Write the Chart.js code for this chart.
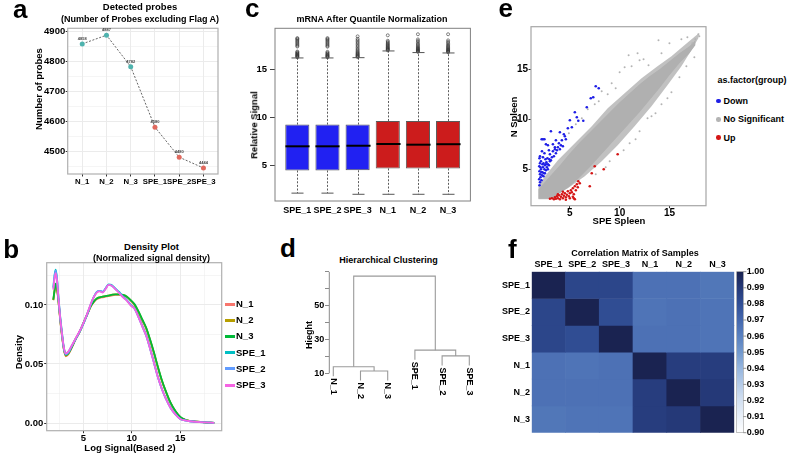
<!DOCTYPE html>
<html><head><meta charset="utf-8">
<script src="https://cdn.jsdelivr.net/npm/chart.js@4.4.1/dist/chart.umd.min.js"></script>
<style>
html,body{margin:0;padding:0;background:#fff;}
#fig{position:relative;width:789px;height:454px;overflow:hidden;background:#fff;font-family:'Liberation Sans',Arial,sans-serif;font-weight:bold;}
.cv{position:absolute;}
.t{position:absolute;white-space:nowrap;line-height:1;font-weight:bold;color:#000;font-family:'Liberation Sans',Arial,sans-serif;}
.lt{position:absolute;white-space:nowrap;font-weight:bold;color:#000;font-family:'Liberation Sans',Arial,sans-serif;font-size:26px;line-height:26px;}
</style></head><body><div id="fig"></div>
<script>
// ================= DATA =================
// (a) detected probes
const probeSamples = ['N_1', 'N_2', 'N_3', 'SPE_1', 'SPE_2', 'SPE_3'];
const probeCounts = [4858, 4887, 4782, 4580, 4480, 4444];
const probeGroups = ['N', 'N', 'N', 'SPE', 'SPE', 'SPE'];
const probeYTicks = [4450, 4500, 4550, 4600, 4650, 4700, 4750, 4800, 4850, 4900];

// (b) density plot
const densityNames = ['N_1', 'N_2', 'N_3', 'SPE_1', 'SPE_2', 'SPE_3'];
const densityX = [1.91,2.05,2.16,2.3,2.45,2.6,2.8,3.0,3.2,3.45,3.8,4.2,4.6,5.0,5.4,5.8,6.1,6.4,6.7,7.0,7.3,7.6,7.9,8.3,8.7,9.1,9.5,9.9,10.3,10.7,11.1,11.5,11.9,12.3,12.7,13.1,13.5,14.0,14.5,15.0,15.5,16.0,16.7,17.5,18.5];
const densityN1 = [0.104,0.112,0.117,0.113,0.102,0.089,0.074,0.062,0.0565,0.058,0.0635,0.0705,0.0765,0.084,0.0915,0.099,0.1025,0.105,0.106,0.1065,0.107,0.1075,0.108,0.1085,0.1085,0.108,0.1065,0.1035,0.0995,0.0935,0.0865,0.0795,0.0695,0.0585,0.0465,0.0355,0.0265,0.0168,0.0099,0.005,0.0028,0.0018,0.0011,0.0006,0.0002];
const densityN2 = [0.104,0.1125,0.1175,0.1135,0.1025,0.0895,0.0745,0.0625,0.057,0.0585,0.064,0.071,0.077,0.0845,0.092,0.0995,0.103,0.1055,0.1065,0.107,0.1075,0.108,0.1085,0.109,0.109,0.1085,0.107,0.104,0.100,0.094,0.087,0.080,0.070,0.059,0.047,0.036,0.027,0.017,0.010,0.005,0.0028,0.0018,0.0011,0.0006,0.0002];
const densityN3 = [0.1045,0.113,0.118,0.114,0.103,0.090,0.075,0.063,0.0575,0.059,0.064,0.071,0.077,0.0845,0.092,0.0995,0.103,0.1055,0.1065,0.107,0.1075,0.108,0.1085,0.109,0.109,0.1085,0.107,0.104,0.1005,0.0945,0.0875,0.0805,0.0705,0.0595,0.0475,0.0365,0.0272,0.0172,0.0101,0.0051,0.0028,0.0018,0.0011,0.0006,0.0002];
const densitySPE1 = [0.115,0.126,0.130,0.122,0.106,0.092,0.077,0.064,0.0585,0.060,0.065,0.071,0.077,0.084,0.092,0.101,0.107,0.111,0.112,0.111,0.114,0.1175,0.117,0.114,0.111,0.107,0.104,0.100,0.097,0.090,0.082,0.074,0.063,0.051,0.039,0.029,0.021,0.013,0.0075,0.0035,0.0022,0.0015,0.001,0.0006,0.0002];
const densitySPE2 = [0.114,0.125,0.129,0.121,0.105,0.091,0.076,0.063,0.058,0.0595,0.065,0.071,0.077,0.084,0.092,0.101,0.107,0.111,0.112,0.111,0.114,0.117,0.1165,0.1135,0.1105,0.107,0.104,0.100,0.0965,0.0895,0.0815,0.0735,0.0625,0.0505,0.0385,0.0288,0.0208,0.0128,0.0074,0.0035,0.0022,0.0015,0.001,0.0006,0.0002];
const densitySPE3 = [0.113,0.123,0.127,0.120,0.105,0.091,0.076,0.064,0.059,0.0605,0.0655,0.0715,0.0775,0.0845,0.0925,0.1015,0.107,0.1105,0.1115,0.1105,0.1135,0.117,0.1165,0.1135,0.110,0.1065,0.1035,0.0995,0.0965,0.0895,0.0815,0.0735,0.0625,0.0505,0.0385,0.0288,0.0208,0.0128,0.0074,0.0035,0.0022,0.0015,0.001,0.0006,0.0002];
const densityXTicks = [2.5, 5, 7.5, 10, 12.5, 15, 17.5];
const densityYTicks = [0, 0.025, 0.05, 0.075, 0.1, 0.125];

// (c) boxplots
const boxSamples = ['SPE_1', 'SPE_2', 'SPE_3', 'N_1', 'N_2', 'N_3'];
const boxQ1 = [4.48, 4.48, 4.50, 4.69, 4.68, 4.69];
const boxMedian = [7.00, 7.00, 7.06, 7.24, 7.17, 7.22];
const boxQ3 = [9.27, 9.27, 9.27, 9.64, 9.64, 9.64];
const whiskerLow = [2.12, 2.12, 2.00, 2.00, 2.00, 2.00];
const whiskerHigh = [16.21, 16.21, 16.24, 16.94, 16.77, 16.73];
const boxOutliers = [
  [16.28,16.34,16.40,16.46,16.52,16.58,16.65,16.72,16.80,16.88,17.40,17.50,17.62,17.74,17.86,17.98,18.10,18.20,18.28],
  [16.28,16.33,16.39,16.45,16.51,16.58,16.66,16.75,16.85,17.38,17.48,17.60,17.72,17.84,17.96,18.08,18.18,18.28],
  [16.30,16.36,16.42,16.49,16.56,16.63,16.71,16.80,16.90,17.02,17.15,17.30,17.45,17.60,17.75,17.90,18.05,18.20,18.46],
  [17.00,17.06,17.12,17.18,17.25,17.32,17.40,17.48,17.57,17.66,17.76,17.88,18.00,18.57],
  [16.84,16.90,16.96,17.02,17.09,17.16,17.24,17.33,17.43,17.55,17.68,17.82,17.98,18.14,18.68],
  [16.80,16.86,16.92,16.98,17.05,17.12,17.20,17.29,17.38,17.48,17.60,17.73,17.88,18.04,18.68]
];
const boxYTicks = [5, 10, 15];

// (d) hierarchical clustering
const dendroLeaves = ['N_1', 'N_2', 'N_3', 'SPE_1', 'SPE_2', 'SPE_3'];
const dendroMerge = [[-2, -3], [-1, 1], [-5, -6], [-4, 3], [2, 4]];
const dendroHeight = [11.4, 13.9, 20.3, 23.7, 67.5];
const dendroYTicks = [10, 20, 30, 40, 50, 60, 70];
const dendroYLabels = [10, 30, 50];

// (e) scatter SPE vs N spleen
const cloudOuter = [[1.85,3.3],[2.5,4.3],[3.8,5.9],[5.5,7.6],[7.2,9.3],[8.8,11.1],[10.5,12.6],[12.2,14.1],[13.8,15.3],[15.2,16.3],[16.5,17.4],[17.7,18.4],[18.0,18.6],[17.9,18.1],[17.2,16.9],[16.2,15.3],[14.8,13.4],[13.2,11.3],[11.5,9.3],[9.8,7.4],[8.2,5.8],[6.5,4.3],[4.8,3.1],[2.8,2.0],[1.85,2.0],[1.85,3.3]];
const cloudCore = [[1.85,3.0],[3,4.3],[4,5.4],[5,6.6],[6,7.7],[7,8.7],[8,9.7],[9,10.7],[10,11.7],[11,12.6],[12,13.5],[13,14.3],[14,15.0],[15,15.8],[16,16.6],[17,17.3],[17.6,17.9],[17.6,17.4],[17,16.6],[16,15.6],[15,14.4],[14,13.1],[13,11.9],[12,10.7],[11,9.6],[10,8.5],[9,7.4],[8,6.3],[7,5.2],[6,4.2],[5,3.3],[4,2.6],[3.3,2.05],[1.85,2.05],[1.85,3.0]];
const grayPoints = [[10.9,16.4],[11.8,16.6],[12.0,15.9],[12.4,16.0],[11.2,15.3],[10.0,14.7],[10.5,15.2],[9.2,13.6],[8.2,12.8],[8.8,12.5],[7.5,11.5],[6.8,11.0],[6.2,10.1],[5.6,9.5],[4.9,8.6],[13.9,17.9],[15.0,17.6],[14.2,16.6],[16.2,18.0],[16.8,18.2],[12.9,15.4],[9.6,13.1],[7.9,11.8],[12.8,10.1],[13.2,10.3],[12.0,8.8],[11.0,7.6],[10.4,6.9],[14.2,11.5],[15.2,12.7],[16.0,14.2],[14.8,12.1],[9.0,5.8],[8.6,5.2],[7.6,4.5],[13.6,10.6],[11.6,8.0],[16.7,15.3],[17.5,16.2],[17.9,18.5],[18.0,18.3],[17.6,18.0],[17.3,17.6]];
const downPoints = [[1.95,3.4],[2.0,3.7],[1.92,4.0],[2.05,4.2],[2.0,4.5],[1.95,4.8],[2.1,5.0],[1.93,5.3],[2.0,5.6],[2.15,3.9],[2.2,4.4],[2.25,4.7],[2.3,5.2],[2.1,5.8],[2.4,4.6],[2.45,5.0],[2.5,5.4],[2.35,5.6],[2.6,4.9],[2.7,5.2],[2.65,5.7],[2.8,5.5],[2.9,5.4],[2.55,6.0],[2.3,6.2],[2.0,6.3],[2.75,6.1],[3.0,5.8],[3.1,5.9],[3.2,6.2],[3.4,6.3],[3.6,6.6],[3.5,7.0],[3.3,6.8],[3.0,6.5],[2.9,6.9],[2.45,6.6],[2.2,6.8],[1.95,6.1],[2.05,5.2],[2.15,4.7],[2.25,5.5],[2.35,4.3],[2.5,4.6],[2.6,5.5],[2.8,5.0],[2.95,6.0],[3.7,6.9],[3.8,7.2],[4.0,7.0],[4.1,7.4],[3.9,7.6],[3.5,7.2],[4.3,7.3],[4.5,8.3],[3.1,8.8],[2.17,8.0],[2.3,8.0],[2.45,8.0],[2.6,7.5],[2.8,7.4],[4.0,8.7],[4.4,8.5],[4.8,9.1],[5.0,9.9],[5.5,10.7],[5.7,10.2],[5.85,9.85],[6.35,9.85],[6.7,11.2],[7.1,12.1],[7.35,12.2],[7.6,13.3],[7.9,13.1],[4.6,8.0],[4.2,7.9],[3.3,7.5],[3.6,7.9],[5.2,9.2]];
const upPoints = [[3.0,2.05],[3.2,2.1],[3.4,2.0],[3.5,2.2],[3.6,2.05],[3.7,2.3],[3.8,2.1],[3.9,2.4],[4.0,2.0],[4.1,2.25],[4.2,2.5],[4.3,2.1],[4.4,2.35],[4.5,2.6],[4.6,2.2],[4.7,2.45],[4.8,2.8],[4.9,2.3],[5.0,2.6],[5.1,2.9],[5.2,2.7],[5.3,3.1],[5.4,2.5],[5.5,3.3],[5.6,2.9],[5.7,3.5],[5.8,3.2],[4.3,2.75],[3.8,2.5],[5.0,2.1],[5.4,2.1],[5.3,2.25],[5.85,3.8],[6.0,3.6],[7.0,3.3],[7.2,4.6],[7.5,5.3],[8.4,5.0],[9.8,6.5],[5.5,2.0],[4.6,1.95]];
const scatterTicks = [5, 10, 15];
const groupNames = ['Down', 'No Significant', 'Up'];

// (f) correlation matrix
const corrSamples = ['SPE_1', 'SPE_2', 'SPE_3', 'N_1', 'N_2', 'N_3'];
const corrMatrix = [
  [1.000, 0.984, 0.984, 0.966, 0.966, 0.964],
  [0.984, 1.000, 0.981, 0.965, 0.966, 0.965],
  [0.984, 0.981, 1.000, 0.966, 0.966, 0.965],
  [0.966, 0.965, 0.966, 1.000, 0.988, 0.988],
  [0.966, 0.966, 0.966, 0.988, 1.000, 0.990],
  [0.964, 0.965, 0.965, 0.988, 0.990, 1.000]
];
const colorbarTicks = [0.90, 0.91, 0.92, 0.93, 0.94, 0.95, 0.96, 0.97, 0.98, 0.99, 1.00];
const corrColorStops = [[0.90,'#ffffff'],[0.92,'#d3e0f1'],[0.94,'#97b6de'],[0.95,'#7399cd'],[0.96,'#5a81c0'],[0.97,'#4467ad'],[0.98,'#314f96'],[0.99,'#253978'],[1.00,'#1a2351']];

// ================= HELPERS =================
const FONT = "'Liberation Sans', Arial, sans-serif";
Chart.defaults.font.family = FONT;
Chart.defaults.font.weight = 'bold';
Chart.defaults.font.size = 9;
Chart.defaults.color = '#000';
Chart.defaults.animation = false;
Chart.defaults.responsive = false;
Chart.defaults.events = [];
Chart.defaults.plugins.legend.display = false;
Chart.defaults.plugins.tooltip.enabled = false;

const fig = document.getElementById('fig');
function makeCtx(l, t, w, h) {
  const c = document.createElement('canvas');
  c.width = w; c.height = h; c.className = 'cv';
  c.style.left = l + 'px'; c.style.top = t + 'px';
  c.style.width = w + 'px'; c.style.height = h + 'px';
  fig.appendChild(c);
  return c.getContext('2d');
}
const fixW = w => s => { s.width = w; };
const fixH = h => s => { s.height = h; };
const setTicks = vals => s => { s.ticks = vals.map(v => ({value: v})); };
function txt(s, x, y, size, opt) {
  opt = opt || {};
  const d = document.createElement('div');
  d.className = 't'; d.textContent = s;
  d.style.fontSize = size + 'px';
  d.style.left = x + 'px'; d.style.top = y + 'px';
  let tr = opt.left ? 'translate(0,-50%)' : 'translate(-50%,-50%)';
  if (opt.rot) tr += ' rotate(' + opt.rot + 'deg)';
  d.style.transform = tr;
  fig.appendChild(d);
  return d;
}
function letter(s, left, baseline) {
  const d = document.createElement('div');
  d.className = 'lt'; d.textContent = s;
  d.style.left = left + 'px'; d.style.top = (baseline - 22) + 'px';
  fig.appendChild(d);
}
function hexToRgb(h) { return [parseInt(h.slice(1,3),16), parseInt(h.slice(3,5),16), parseInt(h.slice(5,7),16)]; }
function corrColor(v) {
  for (let i = 1; i < corrColorStops.length; i++) {
    const [v0, c0] = corrColorStops[i-1], [v1, c1] = corrColorStops[i];
    if (v <= v1 + 1e-9) {
      const t = Math.max(0, Math.min(1, (v - v0) / (v1 - v0)));
      const a = hexToRgb(c0), b = hexToRgb(c1);
      return 'rgb(' + a.map((x, k) => Math.round(x + (b[k] - x) * t)).join(',') + ')';
    }
  }
  return corrColorStops[corrColorStops.length-1][1];
}

// plugins
Chart.register({
  id: 'frame',
  afterDatasetsDraw(chart, args, opts) {
    if (!opts || !opts.color) return;
    const a = chart.chartArea, ctx = chart.ctx;
    ctx.save(); ctx.strokeStyle = opts.color; ctx.lineWidth = opts.width || 1;
    ctx.strokeRect(a.left, a.top, a.right - a.left, a.bottom - a.top);
    ctx.restore();
  }
});
Chart.register({
  id: 'valueLabels',
  afterDatasetsDraw(chart, args, opts) {
    if (!opts || !opts.values) return;
    const meta = chart.getDatasetMeta(0), ctx = chart.ctx;
    ctx.save(); ctx.font = 'bold 4px ' + FONT; ctx.fillStyle = '#444';
    ctx.textAlign = 'center'; ctx.textBaseline = 'bottom';
    meta.data.forEach((pt, i) => ctx.fillText(String(opts.values[i]), pt.x, pt.y - 3));
    ctx.restore();
  }
});
Chart.register({
  id: 'boxExtras',
  afterDatasetsDraw(chart, args, opts) {
    if (!opts || !opts.on) return;
    const ctx = chart.ctx, xs = chart.scales.x, ys = chart.scales.y;
    const half = xs.getPixelForValue(1.4) - xs.getPixelForValue(1);
    ctx.save();
    boxSamples.forEach((s, i) => {
      const x = Math.round(xs.getPixelForValue(i + 1)) + 0.5;
      const yQ1 = ys.getPixelForValue(boxQ1[i]), yQ3 = ys.getPixelForValue(boxQ3[i]);
      const yLo = ys.getPixelForValue(whiskerLow[i]), yHi = ys.getPixelForValue(whiskerHigh[i]);
      ctx.strokeStyle = '#333'; ctx.lineWidth = 0.8; ctx.setLineDash([2, 1.6]);
      ctx.beginPath(); ctx.moveTo(x, yQ3); ctx.lineTo(x, yHi); ctx.moveTo(x, yQ1); ctx.lineTo(x, yLo); ctx.stroke();
      ctx.setLineDash([]);
      ctx.strokeStyle = '#555'; ctx.lineWidth = 1;
      ctx.beginPath(); ctx.moveTo(x - half / 2, yHi); ctx.lineTo(x + half / 2, yHi);
      ctx.moveTo(x - half / 2, yLo); ctx.lineTo(x + half / 2, yLo); ctx.stroke();
      const yM = ys.getPixelForValue(boxMedian[i]);
      ctx.strokeStyle = '#000'; ctx.lineWidth = 2;
      ctx.beginPath(); ctx.moveTo(x - half, yM); ctx.lineTo(x + half, yM); ctx.stroke();
    });
    ctx.restore();
  }
});
Chart.register({
  id: 'dendro',
  afterDraw(chart, args, opts) {
    if (!opts || !opts.leaves) return;
    const ctx = chart.ctx, xs = chart.scales.x, ys = chart.scales.y, L = chart.chartArea.left;
    ctx.save();
    ctx.strokeStyle = '#8A8A8A'; ctx.lineWidth = 1;
    ctx.beginPath(); ctx.moveTo(L, ys.getPixelForValue(opts.axisFrom)); ctx.lineTo(L, ys.getPixelForValue(opts.axisTo)); ctx.stroke();
    ctx.fillStyle = '#000'; ctx.font = 'bold 9px ' + FONT;
    ctx.textAlign = 'left'; ctx.textBaseline = 'middle';
    opts.leaves.forEach(l => {
      ctx.save();
      ctx.translate(xs.getPixelForValue(l.x), ys.getPixelForValue(l.y) + 2);
      ctx.rotate(Math.PI / 2);
      ctx.fillText(l.name, 0, 0);
      ctx.restore();
    });
    ctx.restore();
  }
});
Chart.register({
  id: 'colorbar',
  afterDraw(chart, args, opts) {
    if (!opts || !opts.scale) return;
    const s = chart.scales[opts.scale], ctx = chart.ctx;
    const x0 = s.left + opts.gap, w = opts.width;
    const yTop = s.getPixelForValue(s.max), yBot = s.getPixelForValue(s.min);
    const g = ctx.createLinearGradient(0, yBot, 0, yTop);
    corrColorStops.forEach(([v, c]) => g.addColorStop((v - s.min) / (s.max - s.min), c));
    ctx.save();
    ctx.fillStyle = g; ctx.fillRect(x0, yTop, w, yBot - yTop);
    ctx.strokeStyle = '#9a9a9a'; ctx.lineWidth = 0.6; ctx.strokeRect(x0, yTop, w, yBot - yTop);
    ctx.strokeStyle = '#777'; ctx.lineWidth = 0.8;
    s.ticks.forEach(t => {
      const y = s.getPixelForValue(t.value);
      ctx.beginPath(); ctx.moveTo(x0 + w, y); ctx.lineTo(x0 + w + 3, y); ctx.stroke();
    });
    ctx.restore();
  }
});

// ================= PANEL A =================
const groupColors = {N: '#4FB3AE', SPE: '#E0695E'};
new Chart(makeCtx(10, 20, 212, 176), {
  type: 'line',
  data: {datasets: [{
    data: probeCounts.map((v, i) => ({x: i + 1, y: v})),
    borderColor: '#555', borderWidth: 0.9, borderDash: [2, 1.6],
    pointRadius: 2.5, pointBorderWidth: 0, pointBorderColor: 'rgba(0,0,0,0)',
    pointBackgroundColor: probeGroups.map(g => groupColors[g]),
    tension: 0, fill: false
  }]},
  options: {
    layout: {padding: {left: 0, top: 8.3, right: 3.6, bottom: 0}},
    scales: {
      x: {type: 'linear', min: 0.4, max: 6.6, afterFit: fixH(22), afterBuildTicks: setTicks(probeSamples.map((s, i) => i + 1)),
        ticks: {autoSkip: false, maxRotation: 0, padding: 1.5, font: {size: 7.8, lineHeight: 1}, callback: v => probeSamples[v - 1]},
        grid: {color: '#EBEBEB', lineWidth: 1, tickColor: '#333', tickLength: 2.5}, border: {display: false}},
      y: {type: 'linear', min: 4424, max: 4910, afterFit: fixW(57.7), afterBuildTicks: setTicks(probeYTicks),
        ticks: {autoSkip: false, padding: 0.5, font: {size: 9.5, lineHeight: 1}, callback: v => (v % 100 === 0 ? String(v) : '')},
        grid: {color: '#EBEBEB', lineWidth: c => (c.tick && c.tick.value % 100 === 0 ? 1 : 0.5),
          tickColor: c => (c.tick && c.tick.value % 100 === 0 ? '#333' : 'rgba(0,0,0,0)'), tickLength: 2}, border: {display: false}}
    },
    plugins: {frame: {color: '#B0B0B0', width: 1.2}, valueLabels: {values: probeCounts}}
  }
});

// ================= PANEL B =================
const densitySeries = [densityN1, densityN2, densityN3, densitySPE1, densitySPE2, densitySPE3];
const densityColors = ['#F8766D', '#B79F00', '#00BA38', '#00BFC4', '#619CFF', '#F564E3'];
const isMajor = (v, step) => Math.abs(v / step - Math.round(v / step)) < 1e-6;
new Chart(makeCtx(0, 255, 224, 199), {
  type: 'line',
  data: {datasets: densityNames.map((n, k) => ({
    label: n, data: densityX.map((x, i) => ({x: x, y: densitySeries[k][i]})),
    borderColor: densityColors[k], borderWidth: 1.8, pointRadius: 0,
    cubicInterpolationMode: 'monotone', fill: false, order: 5 - k
  }))},
  options: {
    layout: {padding: {left: 0, top: 7.7, right: 2.3, bottom: 0}},
    scales: {
      x: {type: 'linear', min: 1.23, max: 19.27, afterFit: fixH(23.3), afterBuildTicks: setTicks(densityXTicks),
        ticks: {autoSkip: false, maxRotation: 0, padding: 0.6, font: {size: 9.5, lineHeight: 1}, callback: v => (isMajor(v, 5) ? String(v) : '')},
        grid: {color: '#EBEBEB', lineWidth: c => (c.tick && isMajor(c.tick.value, 5) ? 1 : 0.5),
          tickColor: c => (c.tick && isMajor(c.tick.value, 5) ? '#333' : 'rgba(0,0,0,0)'), tickLength: 2.5}, border: {display: false}},
      y: {type: 'linear', min: -0.0065, max: 0.1358, afterFit: fixW(46.7), afterBuildTicks: setTicks(densityYTicks),
        ticks: {autoSkip: false, padding: 1, font: {size: 9.5, lineHeight: 1}, callback: v => (isMajor(v, 0.05) ? v.toFixed(2) : '')},
        grid: {color: '#EBEBEB', lineWidth: c => (c.tick && isMajor(c.tick.value, 0.05) ? 1 : 0.5),
          tickColor: c => (c.tick && isMajor(c.tick.value, 0.05) ? '#333' : 'rgba(0,0,0,0)'), tickLength: 2.5}, border: {display: false}}
    },
    plugins: {frame: {color: '#B0B0B0', width: 1.2}}
  }
});

// ================= PANEL C =================
new Chart(makeCtx(225, 20, 250, 200), {
  type: 'bar',
  data: {datasets: [
    {type: 'bar', data: boxSamples.map((s, i) => ({x: i + 1, y: [boxQ1[i], boxQ3[i]]})),
      backgroundColor: boxSamples.map(s => (s.indexOf('SPE') === 0 ? '#2121F2' : '#CC1C1C')),
      borderColor: '#5A5A5A', borderWidth: 1, borderSkipped: false, barPercentage: 0.8, categoryPercentage: 1, order: 2},
    {type: 'scatter', data: boxOutliers.flatMap((arr, i) => arr.map(v => ({x: i + 1, y: v}))),
      pointStyle: 'circle', pointRadius: 1.5, borderColor: '#333', backgroundColor: 'rgba(0,0,0,0)', borderWidth: 0.6, order: 1}
  ]},
  options: {
    layout: {padding: {left: 0, top: 8.3, right: 1.7, bottom: 0}},
    scales: {
      x: {type: 'linear', min: 0.26, max: 6.74, offset: false, afterFit: fixH(19), afterBuildTicks: setTicks(boxSamples.map((s, i) => i + 1)),
        ticks: {autoSkip: false, maxRotation: 0, padding: 5.4, font: {size: 9, lineHeight: 1}, callback: v => boxSamples[v - 1]},
        grid: {display: false, drawTicks: false, offset: false}, border: {display: false}},
      y: {type: 'linear', min: 1.3, max: 19.3, afterFit: fixW(50), afterBuildTicks: setTicks(boxYTicks),
        ticks: {padding: 3, font: {size: 9.5, lineHeight: 1}},
        grid: {drawOnChartArea: false, tickColor: '#444', tickLength: 5}, border: {display: false}}
    },
    plugins: {frame: {color: '#808080', width: 1}, boxExtras: {on: true}}
  }
});

// ================= PANEL D =================
const dendroHang = 0.1 * (Math.max(...dendroHeight) - Math.min(...dendroHeight));
const clusterX = [];
const nodeX = id => (id < 0 ? -id : clusterX[id - 1]);
const nodeBottom = (id, h) => (id < 0 ? h - dendroHang : dendroHeight[id - 1]);
const dendroSegments = [];
const leafLabelPos = [];
dendroMerge.forEach(([a, b], k) => {
  const h = dendroHeight[k];
  clusterX[k] = (nodeX(a) + nodeX(b)) / 2;
  dendroSegments.push([{x: nodeX(a), y: nodeBottom(a, h)}, {x: nodeX(a), y: h}, {x: nodeX(b), y: h}, {x: nodeX(b), y: nodeBottom(b, h)}]);
  [a, b].forEach(id => { if (id < 0) leafLabelPos.push({name: dendroLeaves[-id - 1], x: -id, y: h - dendroHang}); });
});
new Chart(makeCtx(290, 265, 190, 150), {
  type: 'scatter',
  data: {datasets: dendroSegments.map(seg => ({type: 'line', data: seg, borderColor: '#9A9A9A', borderWidth: 1.1, pointRadius: 0, tension: 0, fill: false}))},
  options: {
    layout: {padding: {left: 0, top: 6.9, right: 6.7, bottom: 30}},
    scales: {
      x: {type: 'linear', min: 0.853, max: 6.147, display: false},
      y: {type: 'linear', min: 3.1, max: 70, afterFit: fixW(39.3), afterBuildTicks: setTicks(dendroYTicks),
        ticks: {autoSkip: false, padding: 0.7, font: {size: 9, lineHeight: 1}, callback: v => (dendroYLabels.indexOf(v) >= 0 ? String(v) : '')},
        grid: {drawOnChartArea: false, tickColor: '#8A8A8A', tickLength: 4.3}, border: {display: false}}
    },
    plugins: {dendro: {leaves: leafLabelPos, axisFrom: dendroYTicks[0], axisTo: dendroYTicks[dendroYTicks.length - 1]}}
  }
});

// ================= PANEL E =================
const toXY = arr => arr.map(p => ({x: p[0], y: p[1]}));
new Chart(makeCtx(490, 20, 220, 210), {
  type: 'scatter',
  data: {datasets: [
    {type: 'line', data: toXY(cloudOuter), fill: 'shape', backgroundColor: 'rgba(178,178,178,0.8)', borderColor: 'rgba(0,0,0,0)', borderWidth: 0, pointRadius: 0, tension: 0, order: 5},
    {type: 'line', data: toXY(cloudCore), fill: 'shape', backgroundColor: '#B0B0B0', borderColor: 'rgba(0,0,0,0)', borderWidth: 0, pointRadius: 0, tension: 0, order: 4},
    {label: groupNames[1], data: toXY(grayPoints), backgroundColor: '#B4B4B4', pointRadius: 1, borderWidth: 0, order: 3},
    {label: groupNames[0], data: toXY(downPoints), backgroundColor: '#1E1EE6', pointRadius: 1.3, borderWidth: 0, order: 2},
    {label: groupNames[2], data: toXY(upPoints), backgroundColor: '#D41616', pointRadius: 1.3, borderWidth: 0, order: 1}
  ]},
  options: {
    layout: {padding: {left: 0, top: 6.7, right: 3.3, bottom: 0}},
    scales: {
      x: {type: 'linear', min: 1.1, max: 18.67, afterFit: fixH(24.3), afterBuildTicks: setTicks(scatterTicks),
        ticks: {autoSkip: false, maxRotation: 0, padding: 0, font: {size: 10, lineHeight: 1}},
        grid: {drawOnChartArea: false, tickColor: '#333', tickLength: 2.5}, border: {display: false}},
      y: {type: 'linear', min: 1.36, max: 19.26, afterFit: fixW(41), afterBuildTicks: setTicks(scatterTicks),
        ticks: {autoSkip: false, padding: 0.5, font: {size: 10, lineHeight: 1}},
        grid: {drawOnChartArea: false, tickColor: '#333', tickLength: 2.5}, border: {display: false}}
    },
    plugins: {frame: {color: '#A6A6A6', width: 1.2}}
  }
});

// ================= PANEL F =================
const nC = corrSamples.length;
new Chart(makeCtx(490, 250, 299, 200), {
  type: 'bar',
  data: {labels: corrSamples, datasets: corrMatrix.map((row, r) => ({
    label: corrSamples[r],
    data: corrSamples.map(() => [nC - 1 - r, nC - r]),
    backgroundColor: row.map(v => corrColor(v)),
    borderWidth: 0, barPercentage: 1, categoryPercentage: 1, grouped: false
  }))},
  options: {
    layout: {padding: {left: 0, top: 0, right: 0, bottom: 17.3}},
    scales: {
      x: {type: 'category', position: 'top', afterFit: fixH(21.7),
        ticks: {autoSkip: false, maxRotation: 0, padding: 2.9, font: {size: 9, lineHeight: 1}},
        grid: {display: false, drawTicks: false}, border: {display: false}},
      y: {type: 'linear', min: 0, max: nC, display: false},
      rows: {type: 'category', axis: 'y', position: 'left', labels: corrSamples, offset: true, afterFit: fixW(41.7),
        ticks: {autoSkip: false, padding: 1.7, font: {size: 9, lineHeight: 1}},
        grid: {display: false, drawTicks: false}, border: {display: false}},
      cb: {type: 'linear', axis: 'y', position: 'right', min: 0.9, max: 1.0, afterFit: fixW(54.7), afterBuildTicks: setTicks(colorbarTicks),
        ticks: {autoSkip: false, padding: 12.4, font: {size: 9, lineHeight: 1}, callback: v => v.toFixed(2)},
        grid: {display: false, drawTicks: false}, border: {display: false}}
    },
    plugins: {colorbar: {scale: 'cb', gap: 2.4, width: 6.6}}
  }
});

// ================= TEXT =================
letter('a', 13, 18.3); letter('b', 3.3, 258); letter('c', 245, 17);
letter('d', 280, 256.7); letter('e', 498.5, 17); letter('f', 508, 258);

txt('Detected probes', 140, 7, 9.5);
txt('(Number of Probes excluding Flag A)', 140, 18.5, 9);
txt('Number of probes', 39, 89, 9.5, {rot: -90});

txt('mRNA After Quantile Normalization', 372, 19, 9);
txt('Relative Signal', 253.5, 125, 9.5, {rot: -90});

txt('N Spleen', 513.5, 117, 9.5, {rot: -90});
txt('SPE Spleen', 619, 221, 9.5);
txt('as.factor(group)', 717.5, 80, 9, {left: true});
const legendDotColors = ['#1E1EE6', '#B4B4B4', '#D41616'];
const legendY = [101, 119.3, 137.7];
groupNames.forEach((g, i) => {
  const dot = document.createElement('div');
  dot.style.cssText = 'position:absolute;width:4.5px;height:4.5px;border-radius:50%;left:716.3px;top:' + (legendY[i] - 2.25) + 'px;background:' + legendDotColors[i];
  fig.appendChild(dot);
  txt(g, 723.5, legendY[i], 9, {left: true});
});

txt('Density Plot', 151.5, 246.7, 9.5);
txt('(Normalized signal density)', 151.5, 257.7, 9);
txt('Density', 19, 352, 9.5, {rot: -90});
txt('Log Signal(Based 2)', 130, 448.3, 9.5);
const bLegendY = [304, 320, 336.3, 352.6, 368.9, 385.2];
densityNames.forEach((n, i) => {
  const sw = document.createElement('div');
  sw.style.cssText = 'position:absolute;left:225px;width:10px;height:3px;top:' + (bLegendY[i] - 1.5) + 'px;background:' + densityColors[i];
  fig.appendChild(sw);
  txt(n, 236, bLegendY[i], 9.5, {left: true});
});

txt('Hierarchical Clustering', 388.5, 260, 9);
txt('Hieght', 309, 335, 9, {rot: -90});

txt('Correlation Matrix of Samples', 635, 253.3, 9);
</script></body></html>
